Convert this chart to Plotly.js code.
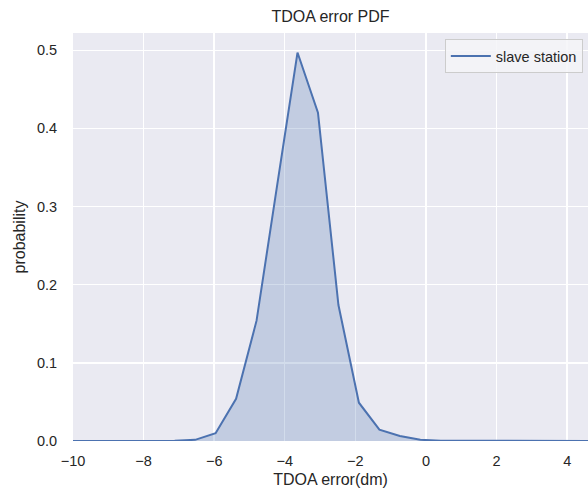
<!DOCTYPE html>
<html>
<head>
<meta charset="utf-8">
<script src="https://cdn.plot.ly/plotly-3.0.1.min.js"></script>
<style>html,body{margin:0;padding:0;background:#fff;}#chart{width:588px;height:497px;}</style>
</head>
<body>
<div id="chart"></div>
<script>
const errorDm = [-10.02, -9.44, -8.86, -8.28, -7.70, -7.12, -6.54, -5.96, -5.38, -4.80, -4.22, -3.64, -3.06, -2.48, -1.90, -1.32, -0.74, -0.16, 0.42, 1.00, 1.58, 2.16, 2.74, 3.32, 3.90, 4.48, 5.06];
const probability = [0, 0, 0, 0, 0, 0.0003, 0.0015, 0.010, 0.054, 0.154, 0.326, 0.497, 0.420, 0.174, 0.049, 0.0145, 0.0065, 0.0015, 0.0004, 0.0002, 0.0001, 0.0001, 0, 0, 0, 0, 0];
const seriesName = 'slave station';
const yTicks = [0, 0.1, 0.2, 0.3, 0.4, 0.5];
const xTicks = [-10, -8, -6, -4, -2, 0, 2, 4];

const fam = 'Liberation Sans, Arial, sans-serif';
const tickFont = {family: fam, size: 14.5, color: '#262626'};
const labFont = {family: fam, size: 16, color: '#262626'};
Plotly.newPlot('chart', [
  {x: errorDm, y: probability, name: seriesName, type: 'scatter', mode: 'lines', showlegend: false,
   line: {color: 'rgba(0,0,0,0)', width: 0}, fill: 'tozeroy', fillcolor: 'rgba(76,114,176,0.25)'},
  {x: errorDm, y: probability, name: seriesName, type: 'scatter', mode: 'lines',
   line: {color: '#4C72B0', width: 2}}
], {
  width: 588, height: 497,
  margin: {l: 73, r: 0, t: 33, b: 56},
  paper_bgcolor: '#ffffff', plot_bgcolor: '#EAEAF2',
  font: tickFont,
  title: {text: 'TDOA error PDF', font: labFont, x: 0.5, xanchor: 'center', xref: 'paper', y: 0.966, yanchor: 'middle'},
  xaxis: {range: [-10, 4.59], tickvals: xTicks, showgrid: true, gridcolor: '#ffffff', gridwidth: 1.4, zeroline: false, showline: false,
          ticks: 'outside', ticklen: 7, tickcolor: 'rgba(0,0,0,0)', tickfont: tickFont,
          title: {text: 'TDOA error(dm)', font: labFont, standoff: 5}},
  yaxis: {range: [0, 0.522], tickvals: yTicks, tickformat: '.1f', showgrid: true, gridcolor: '#ffffff', gridwidth: 1.4, zeroline: false, showline: false,
          ticks: 'outside', ticklen: 12, tickcolor: 'rgba(0,0,0,0)', tickfont: tickFont,
          title: {text: 'probability', font: labFont, standoff: 7}},
  showlegend: true,
  legend: {x: 0.722, xanchor: 'left', y: 0.985, yanchor: 'top', bgcolor: 'rgba(244,244,248,0.85)', bordercolor: '#CCCCCC', borderwidth: 1,
           itemwidth: 40, font: {family: fam, size: 14.5, color: '#262626'}}
}, {displayModeBar: false, staticPlot: true});
</script>
</body>
</html>
